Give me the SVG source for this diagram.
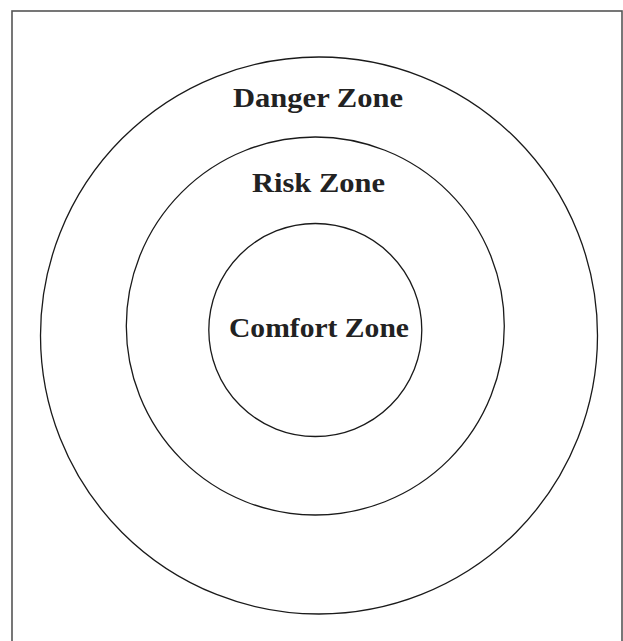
<svg xmlns="http://www.w3.org/2000/svg" width="623" height="641" viewBox="0 0 623 641">
<style>
.zone{fill:none;stroke:#1a1a1a;stroke-width:1.3}
.lbl{font-family:"Liberation Serif","Times New Roman",serif;font-weight:bold;font-size:28px;fill:#222;text-anchor:start}
</style>
<rect x="0" y="0" width="623" height="641" fill="#fff"/>
<rect x="12" y="11" width="610" height="650" fill="none" stroke="#555" stroke-width="1.6"/>
<g id="danger">
<circle class="zone" cx="319" cy="335.5" r="278.5"/>
<text class="lbl" x="233" y="107" textLength="170" lengthAdjust="spacingAndGlyphs">Danger Zone</text>
</g>
<g id="risk">
<circle class="zone" cx="315.3" cy="326" r="189"/>
<text class="lbl" x="252" y="192" textLength="133" lengthAdjust="spacingAndGlyphs">Risk Zone</text>
</g>
<g id="comfort">
<circle class="zone" cx="315.3" cy="330" r="106.5"/>
<text class="lbl" x="229" y="337" textLength="180" lengthAdjust="spacingAndGlyphs">Comfort Zone</text>
</g>
</svg>
